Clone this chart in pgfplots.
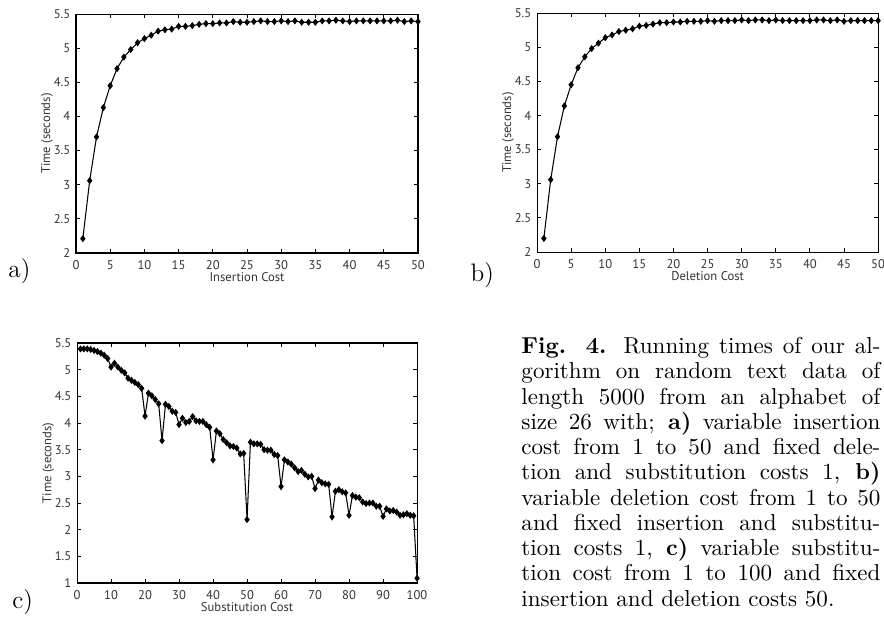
\documentclass[border=0pt]{standalone}
\usepackage{fontspec}
\usepackage{pgfplots}
\pgfplotsset{compat=1.18}
\newfontfamily\axfont{PT Sans}

% MATLAB-like panel style
\pgfplotsset{
  costplot/.style={
    scale only axis,
    anchor=south west,
    axis line style={black, line width=0.5pt},
    tick align=inside,
    xtick pos=both, ytick pos=both,
    major tick length=2pt,
    tick style={black, line width=0.4pt},
    every tick label/.append style={font=\axfont\fontsize{6}{7}\selectfont, text=black!80},
    /pgf/number format/assume math mode=true,
    label style={font=\axfont\fontsize{6}{7}\selectfont, text=black!80},
    xlabel style={at={(axis description cs:0.5,-0.1)}, anchor=center},
    ylabel style={at={(axis description cs:-0.085,0.5)}, anchor=center},
    yticklabel style={xshift=0.8pt},
    ylabel={Time (seconds)},
  },
  costline/.style={black, line width=0.5pt, mark=diamond*, mark size=1.3pt, mark options={solid, fill=black}},
}

\newlength\cw
\setlength\cw{170.5pt}

\begin{document}
\begin{tikzpicture}

% a) insertion cost
\begin{axis}[costplot, at={(36.1pt,173.85pt)}, width=162.45pt, height=113.5pt,
  xmin=0, xmax=50, xtick={0,5,...,50},
  ymin=2, ymax=5.5, ytick={2,2.5,...,5.5},
  xlabel={Insertion Cost}]
\addplot[costline] coordinates {
(1,2.21)(2,3.06)(3,3.70)(4,4.13)(5,4.45)(6,4.70)(7,4.87)(8,4.98)(9,5.08)(10,5.14)
(11,5.19)(12,5.25)(13,5.27)(14,5.28)(15,5.32)(16,5.32)(17,5.33)(18,5.35)(19,5.36)(20,5.36)
(21,5.37)(22,5.37)(23,5.39)(24,5.38)(25,5.38)(26,5.39)(27,5.40)(28,5.39)(29,5.39)(30,5.40)
(31,5.39)(32,5.40)(33,5.38)(34,5.38)(35,5.38)(36,5.40)(37,5.40)(38,5.41)(39,5.40)(40,5.39)
(41,5.40)(42,5.40)(43,5.40)(44,5.40)(45,5.40)(46,5.40)(47,5.41)(48,5.39)(49,5.40)(50,5.39)};
\end{axis}

% b) deletion cost
\begin{axis}[costplot, at={(255.1pt,174.3pt)}, width=162pt, height=113.5pt,
  xmin=0, xmax=50, xtick={0,5,...,50},
  ymin=2, ymax=5.5, ytick={2,2.5,...,5.5},
  xlabel={Deletion Cost}]
\addplot[costline] coordinates {
(1,2.20)(2,3.06)(3,3.69)(4,4.14)(5,4.45)(6,4.70)(7,4.86)(8,4.98)(9,5.06)(10,5.14)
(11,5.18)(12,5.23)(13,5.25)(14,5.27)(15,5.31)(16,5.32)(17,5.34)(18,5.36)(19,5.36)(20,5.37)
(21,5.37)(22,5.38)(23,5.38)(24,5.38)(25,5.39)(26,5.38)(27,5.39)(28,5.39)(29,5.39)(30,5.40)
(31,5.39)(32,5.40)(33,5.40)(34,5.39)(35,5.40)(36,5.39)(37,5.39)(38,5.39)(39,5.39)(40,5.39)
(41,5.40)(42,5.40)(43,5.39)(44,5.40)(45,5.38)(46,5.39)(47,5.39)(48,5.39)(49,5.39)(50,5.39)};
\end{axis}

% c) substitution cost
\begin{axis}[costplot, at={(36.6pt,17.1pt)}, width=161.5pt, height=114pt,
  xmin=0, xmax=100, xtick={0,10,...,100},
  ymin=1, ymax=5.5, ytick={1,1.5,...,5.5},
  xlabel={Substitution Cost}]
\addplot[costline] coordinates {
(1,5.39)(2,5.39)(3,5.39)(4,5.38)(5,5.36)(6,5.34)(7,5.31)(8,5.27)(9,5.21)(10,5.05)
(11,5.12)(12,5.05)(13,4.99)(14,4.94)(15,4.84)(16,4.80)(17,4.76)(18,4.72)(19,4.65)(20,4.13)
(21,4.56)(22,4.51)(23,4.44)(24,4.36)(25,3.67)(26,4.35)(27,4.31)(28,4.22)(29,4.20)(30,3.97)
(31,4.09)(32,4.01)(33,4.03)(34,4.12)(35,4.04)(36,4.03)(37,4.03)(38,3.97)(39,3.92)(40,3.31)
(41,3.85)(42,3.80)(43,3.69)(44,3.63)(45,3.57)(46,3.56)(47,3.53)(48,3.42)(49,3.43)(50,2.19)
(51,3.64)(52,3.61)(53,3.61)(54,3.60)(55,3.50)(56,3.49)(57,3.49)(58,3.41)(59,3.39)(60,2.81)
(61,3.31)(62,3.27)(63,3.23)(64,3.16)(65,3.09)(66,3.11)(67,3.04)(68,2.99)(69,3.00)(70,2.77)
(71,2.93)(72,2.88)(73,2.86)(74,2.85)(75,2.24)(76,2.72)(77,2.75)(78,2.71)(79,2.69)(80,2.27)
(81,2.64)(82,2.61)(83,2.60)(84,2.52)(85,2.49)(86,2.50)(87,2.50)(88,2.44)(89,2.44)(90,2.25)
(91,2.39)(92,2.35)(93,2.36)(94,2.33)(95,2.27)(96,2.28)(97,2.30)(98,2.27)(99,2.26)(100,1.09)};
\end{axis}

% panel letters
\node[anchor=west, inner sep=0, font=\large] at (3.8pt,165.3pt) {a)};
\node[anchor=west, inner sep=0, font=\large] at (223.3pt,163.4pt) {b)};
\node[anchor=west, inner sep=0, font=\large] at (5.7pt,8.1pt) {c)};

% caption
\node[anchor=north west, inner sep=0] at (247.5pt,134pt) {\parbox[t]{\cw}{%
\fontsize{10.95}{12}\selectfont
\hbox to\cw{\textbf{Fig. 4.} Running times of our al-}
\hbox to\cw{gorithm on random text data of}
\hbox to\cw{length 5000 from an alphabet of}
\hbox to\cw{size 26 with; \textbf{a)} variable insertion}
\hbox to\cw{cost from 1 to 50 and fixed dele-}
\hbox to\cw{tion and substitution costs 1, \textbf{b)}}
\hbox to\cw{variable deletion cost from 1 to 50}
\hbox to\cw{and fixed insertion and substitu-}
\hbox to\cw{tion costs 1, \textbf{c)} variable substitu-}
\hbox to\cw{tion cost from 1 to 100 and fixed}
\hbox{insertion and deletion costs 50.}}};

\pgfresetboundingbox
\path[use as bounding box] (0,0) rectangle (419.9pt,294.025pt);
\end{tikzpicture}
\end{document}
